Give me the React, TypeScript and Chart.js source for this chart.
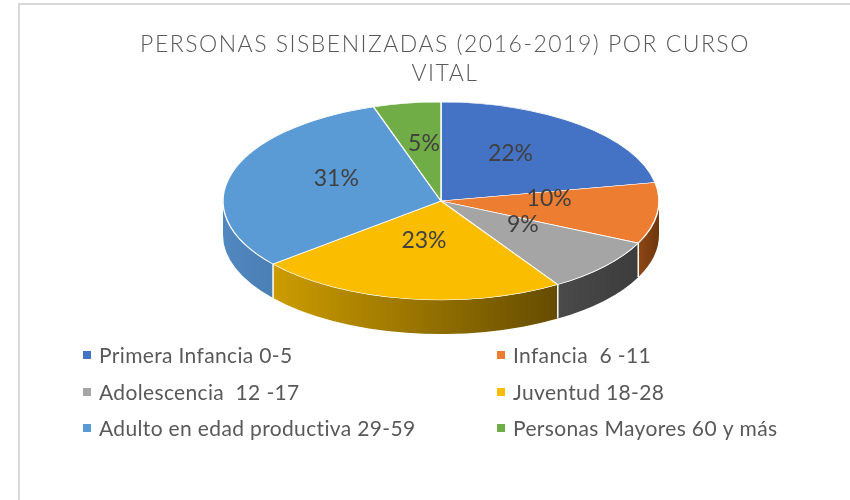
import React, { useEffect, useRef } from "react";
import { Chart, registerables } from "chart.js";

Chart.register(...registerables);

const titleLines = ["PERSONAS SISBENIZADAS (2016-2019) POR CURSO", "VITAL"];
const categories = [
  "Primera Infancia 0-5",
  "Infancia  6 -11",
  "Adolescencia  12 -17",
  "Juventud 18-28",
  "Adulto en edad productiva 29-59",
  "Personas Mayores 60 y más",
];
const percentages = [22, 10, 9, 23, 31, 5];
const topColors = ["#4472c4", "#ed7d31", "#a5a5a5", "#fbbd00", "#5b9bd5", "#70ad47"];
const sideColorsLight = ["#35599b", "#8f4714", "#4a4a4a", "#cc9c00", "#5088c0", "#55883a"];
const sideColorsDark = ["#2c4a82", "#6e360e", "#3c3c3c", "#654c00", "#4a7fb4", "#47722f"];

const GEO = { cx: 441, cy: 201, rx: 218, ry: 99, depth: 34 };

const pie3dPlugin = {
  id: "pie3d",
  beforeDatasetsDraw(chart: any) {
    const ctx = chart.ctx as CanvasRenderingContext2D;
    const meta = chart.getDatasetMeta(0);
    const arcs = meta.data as any[];
    if (!arcs.length) return;
    const { cx, cy, rx, ry, depth } = GEO;
    arcs.forEach((arc: any, i: number) => {
      const a = Math.max(arc.startAngle, 0);
      const b = Math.min(arc.endAngle, Math.PI);
      if (a >= b) return;
      const x1 = cx + rx * Math.cos(b);
      const x2 = cx + rx * Math.cos(a);
      const g = ctx.createLinearGradient(Math.min(x1, x2), 0, Math.max(x1, x2), 0);
      g.addColorStop(0, sideColorsLight[i]);
      g.addColorStop(1, sideColorsDark[i]);
      ctx.save();
      ctx.beginPath();
      ctx.ellipse(cx, cy, rx, ry, 0, a, b, false);
      ctx.ellipse(cx, cy + depth, rx, ry, 0, b, a, true);
      ctx.closePath();
      ctx.fillStyle = g;
      ctx.fill();
      ctx.restore();
    });
    ctx.save();
    ctx.strokeStyle = "#ffffff";
    ctx.lineWidth = 1.5;
    arcs.forEach((arc: any) => {
      const t = arc.endAngle;
      if (t > 0 && t < Math.PI) {
        const x = cx + rx * Math.cos(t);
        const y = cy + ry * Math.sin(t);
        ctx.beginPath();
        ctx.moveTo(x, y);
        ctx.lineTo(x, y + depth);
        ctx.stroke();
      }
    });
    ctx.restore();
    const a0 = arcs[0];
    const R = a0.outerRadius;
    ctx.save();
    ctx.translate(cx, cy);
    ctx.scale(rx / R, ry / R);
    ctx.translate(-a0.x, -a0.y);
  },
  afterDatasetsDraw(chart: any) {
    const ctx = chart.ctx as CanvasRenderingContext2D;
    ctx.restore();
    const meta = chart.getDatasetMeta(0);
    const arcs = meta.data as any[];
    const { cx, cy, rx, ry } = GEO;
    const values = chart.data.datasets[0].data as number[];
    ctx.save();
    ctx.font = "23px Lato";
    ctx.fillStyle = "#404040";
    ctx.textAlign = "center";
    ctx.textBaseline = "middle";
    arcs.forEach((arc: any, i: number) => {
      const mid = (arc.startAngle + arc.endAngle) / 2;
      const x = cx + 0.5 * rx * Math.cos(mid);
      const y = cy - 9 + 0.5 * ry * Math.sin(mid);
      ctx.fillText(values[i] + "%", x, y);
    });
    ctx.restore();
  },
  afterDraw(chart: any) {
    const ctx = chart.ctx as CanvasRenderingContext2D;
    ctx.save();
    ctx.strokeStyle = "#d9d9d9";
    ctx.lineWidth = 2;
    ctx.strokeRect(19, 4, 900, 600);
    ctx.fillStyle = "#595959";
    ctx.textAlign = "center";
    ctx.textBaseline = "middle";
    ctx.font = "300 23px Lato";
    (ctx as any).letterSpacing = "1.5px";
    ctx.fillText(titleLines[0], 445, 45);
    ctx.fillText(titleLines[1], 445, 74);
    const labels = chart.data.labels as string[];
    const colors = chart.data.datasets[0].backgroundColor as string[];
    const colX = [83, 497];
    const rowY = [355, 392, 428];
    ctx.textAlign = "left";
    ctx.font = "21px Lato";
    (ctx as any).letterSpacing = "0.35px";
    labels.forEach((lab, i) => {
      const col = i % 2;
      const row = Math.floor(i / 2);
      const x = colX[col];
      const y = rowY[row];
      ctx.fillStyle = colors[i];
      ctx.fillRect(x, y - 4, 8, 8);
      ctx.fillStyle = "#595959";
      ctx.fillText(lab, x + 16, y + 1);
    });
    (ctx as any).letterSpacing = "0px";
    ctx.restore();
  },
};

export default function App() {
  const ref = useRef<HTMLCanvasElement | null>(null);
  useEffect(() => {
    if (!ref.current) return;
    const chart = new Chart(ref.current, {
      type: "pie",
      data: {
        labels: categories,
        datasets: [
          {
            data: percentages,
            backgroundColor: topColors,
            borderColor: "#ffffff",
            borderWidth: 1.5,
          },
        ],
      },
      options: {
        responsive: false,
        animation: false,
        layout: { padding: 20 },
        plugins: {
          legend: { display: false },
          title: { display: false },
          tooltip: { enabled: false },
        },
      },
      plugins: [pie3dPlugin],
    });
    return () => chart.destroy();
  }, []);
  return (
    <div style={{ position: "fixed", left: 0, top: 0, width: 850, height: 500, background: "#ffffff" }}>
      <canvas ref={ref} width={850} height={500} style={{ width: 850, height: 500 }} />
    </div>
  );
}
